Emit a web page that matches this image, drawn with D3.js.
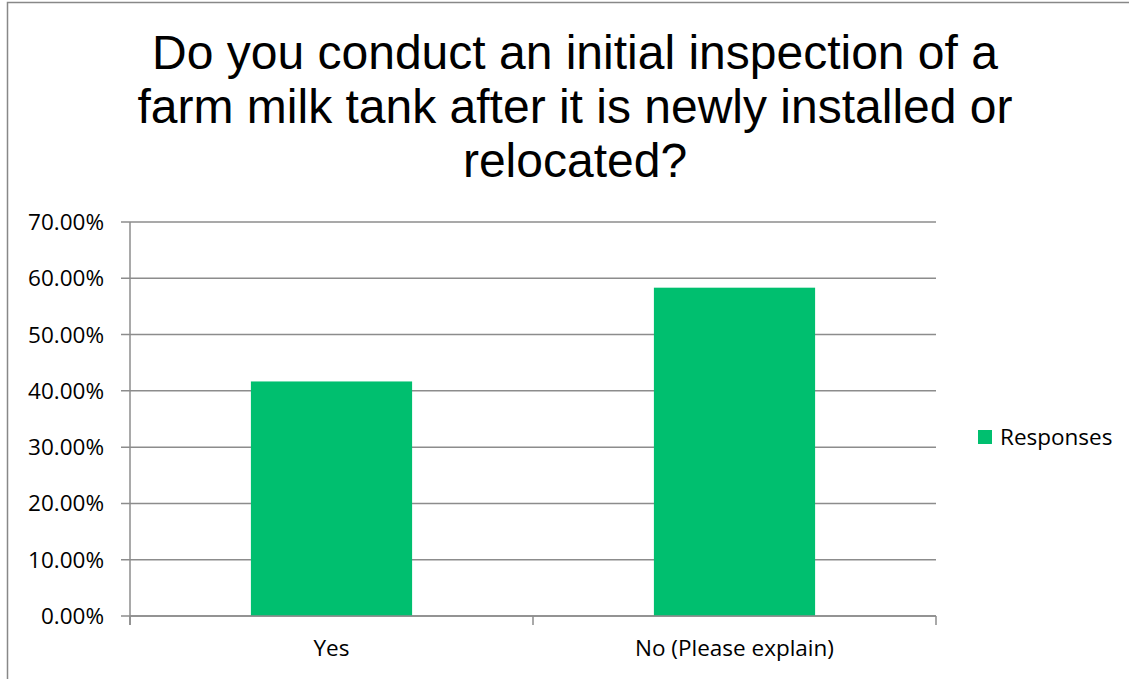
<!DOCTYPE html>
<html><head><meta charset="utf-8">
<script src="https://cdn.jsdelivr.net/npm/d3@7"></script>
<style>body{margin:0;background:#fff;overflow:hidden}</style>
</head><body>
<svg id="c" width="1129" height="679"></svg>
<script>
const categories = ["Yes", "No (Please explain)"];
const values = [0.4167, 0.5833];
const yTicks = [0, 0.1, 0.2, 0.3, 0.4, 0.5, 0.6, 0.7];
const titleLines = ["Do you conduct an initial inspection of a", "farm milk tank after it is newly installed or", "relocated?"];
const seriesName = "Responses";

const svg = d3.select("#c");
const color = "#00BF6F";
const grid = "#8c8c8c";
const lf = "'Open Sans', 'DejaVu Sans', sans-serif";

// chart border
svg.append("rect").attr("x", 7.5).attr("y", 2.5).attr("width", 1200).attr("height", 800)
  .attr("fill", "none").attr("stroke", "#888").attr("stroke-width", 1.5);

const m = {left: 130, right: 936, top: 222, bottom: 616};
const x = d3.scaleBand().domain(categories).range([m.left, m.right]).paddingInner(0.6).paddingOuter(0.3);
const y = d3.scaleLinear().domain([0, 0.7]).range([m.bottom, m.top]);

// title
svg.append("text").attr("x", 575).attr("y", 69).attr("text-anchor", "middle")
  .attr("font-family", "'Liberation Sans', Arial, sans-serif").attr("font-size", 48).attr("fill", "#000")
  .selectAll("tspan").data(titleLines).join("tspan")
  .attr("x", 575).attr("dy", (d, i) => i === 0 ? 0 : 54).text(d => d);

// gridlines
svg.append("g").selectAll("line").data(yTicks).join("line")
  .attr("x1", m.left - 9).attr("x2", m.right).attr("y1", d => y(d)).attr("y2", d => y(d))
  .attr("stroke", grid).attr("stroke-width", 1.5);

// y axis line
svg.append("line").attr("x1", m.left).attr("x2", m.left).attr("y1", m.top).attr("y2", m.bottom + 9)
  .attr("stroke", grid).attr("stroke-width", 1.5);

// y labels
svg.append("g").selectAll("text").data(yTicks).join("text")
  .attr("x", 104).attr("y", d => y(d) + 8).attr("text-anchor", "end")
  .attr("font-family", lf).attr("font-size", 22.5).attr("fill", "#000")
  .text(d => d3.format(".2%")(d));

// x ticks
const xTickPos = [m.left, m.left + (m.right - m.left) / 2, m.right];
svg.append("g").selectAll("line").data(xTickPos).join("line")
  .attr("x1", d => d).attr("x2", d => d).attr("y1", m.bottom).attr("y2", m.bottom + 9)
  .attr("stroke", grid).attr("stroke-width", 1.5);

// bars
svg.append("g").selectAll("rect").data(values).join("rect")
  .attr("x", (d, i) => x(categories[i])).attr("width", x.bandwidth())
  .attr("y", d => y(d)).attr("height", d => y(0) - y(d))
  .attr("fill", color);

// x-axis baseline on top
svg.append("line").attr("x1", m.left).attr("x2", m.right).attr("y1", m.bottom).attr("y2", m.bottom)
  .attr("stroke", grid).attr("stroke-width", 1.5);

// x labels
svg.append("g").selectAll("text").data(categories).join("text")
  .attr("x", d => x(d) + x.bandwidth() / 2).attr("y", 656).attr("text-anchor", "middle")
  .attr("font-family", lf).attr("font-size", 22.5).attr("fill", "#000").text(d => d);

// legend
svg.append("rect").attr("x", 978).attr("y", 430).attr("width", 14).attr("height", 14).attr("fill", color);
svg.append("text").attr("x", 1000).attr("y", 445).attr("font-family", lf).attr("font-size", 22.5)
  .attr("fill", "#000").text(seriesName);
</script>
</body></html>
